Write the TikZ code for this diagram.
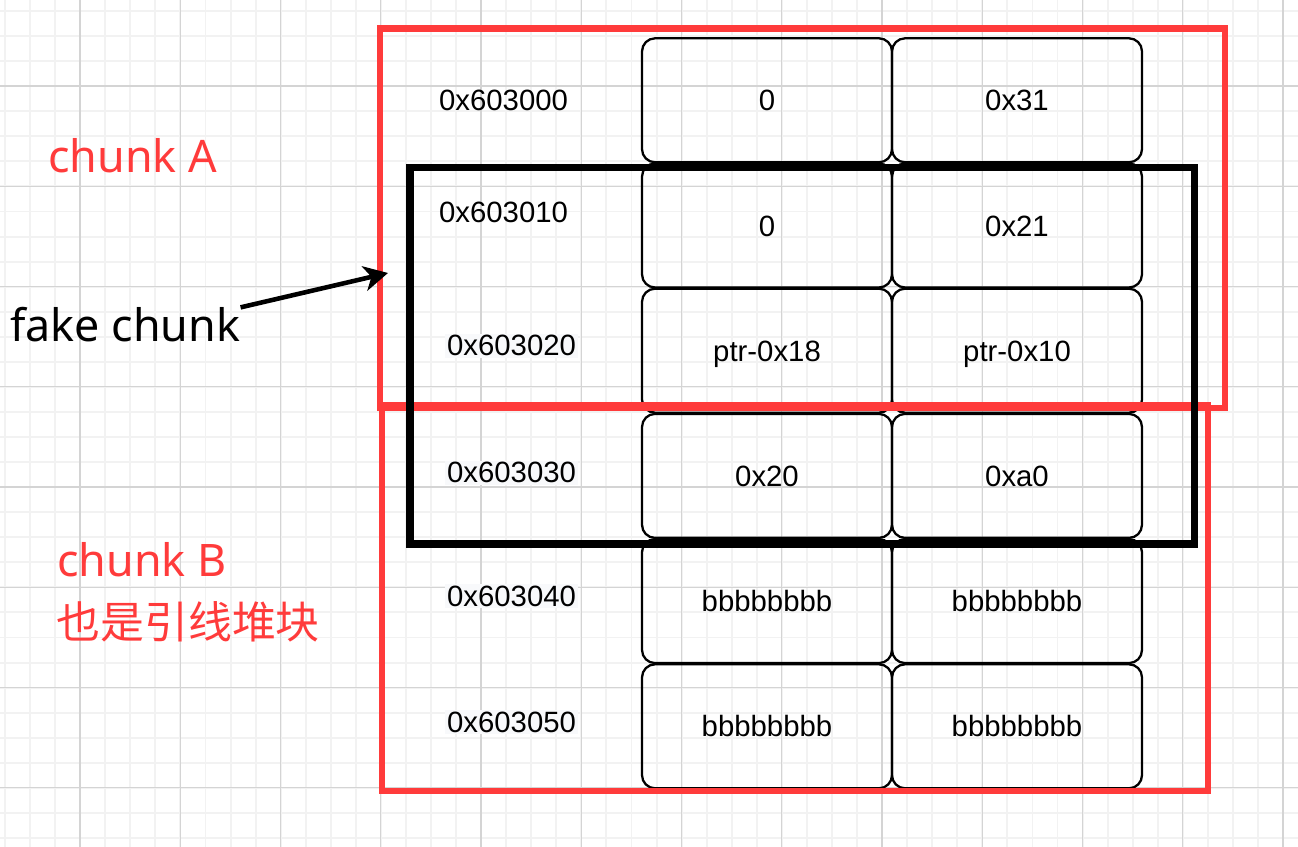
\documentclass[tikz,border=0pt]{standalone}
\usepackage{fontspec}
\setmainfont{Liberation Sans}
\newfontfamily\labelfont{Noto Sans}
\newfontfamily\cjk{Noto Sans CJK SC}
\usetikzlibrary{arrows.meta}
\definecolor{chunkred}{HTML}{FF3B3B}
\definecolor{gridminor}{HTML}{F2F2F2}
\definecolor{gridmajor}{HTML}{D4D4D4}
\definecolor{addrbg}{HTML}{F8F9FB}

\begin{document}
\begin{tikzpicture}[x=0.02cm, y=-0.02cm,
	cell/.style={draw, rounded corners=0.26cm, line width=1.3pt, minimum width=5cm, minimum height=2.48cm, text height=12pt, text depth=0pt, font=\fontsize{16.7}{20}\selectfont},
	address/.style={anchor=base west, inner sep=1pt, font=\fontsize{16.7}{20}\selectfont},
	chunkframe/.style={draw=chunkred, line width=3.8pt},
	fakeframe/.style={draw=black, line width=4pt},
	chunklabel/.style={anchor=base west, inner sep=0pt, text=chunkred, font=\labelfont\fontsize{25.5}{30}\selectfont}]
			
			\useasboundingbox (0,0) rectangle (1298,847);
			\fill[white] (0,0) rectangle (1298,847);
			
			%Background grid
			\foreach \i in {0,...,51}
				\draw[gridminor, line width=1.1pt] ({5+25.06*\i},0) -- ({5+25.06*\i},847);
			\foreach \i in {0,...,33}
				\draw[gridminor, line width=1.1pt] (0,{11+25.06*\i}) -- (1298,{11+25.06*\i});
			\foreach \i in {0,...,12}
				\draw[gridmajor, line width=0.6pt] ({80+100.25*\i},0) -- ({80+100.25*\i},847);
			\foreach \i in {0,...,7}
				\draw[gridmajor, line width=0.6pt] (0,{86+100.25*\i}) -- (1298,{86+100.25*\i});
			
			%Memory cells
			\node (leftCell0) at (767,100.3) [cell]{0};
			\node (rightCell0) at (1017,100.3) [cell]{0x31};
			\node (leftCell1) at (767,225.5) [cell]{0};
			\node (rightCell1) at (1017,225.5) [cell]{0x21};
			\node (leftCell2) at (767,350.7) [cell]{ptr-0x18};
			\node (rightCell2) at (1017,350.7) [cell]{ptr-0x10};
			\node (leftCell3) at (767,475.9) [cell]{0x20};
			\node (rightCell3) at (1017,475.9) [cell]{0xa0};
			\node (leftCell4) at (767,601.1) [cell]{bbbbbbbb};
			\node (rightCell4) at (1017,601.1) [cell]{bbbbbbbb};
			\node (leftCell5) at (767,726.3) [cell]{bbbbbbbb};
			\node (rightCell5) at (1017,726.3) [cell]{bbbbbbbb};
			
			%Addresses
			\node (addr0) at (437,111) [address]{0x603000};
			\node (addr1) at (437,223) [address]{0x603010};
			\node (addr2) at (445,356) [address, fill=addrbg]{0x603020};
			\node (addr3) at (445,483) [address, fill=addrbg]{0x603030};
			\node (addr4) at (445,606) [address, fill=addrbg]{0x603040};
			\node (addr5) at (445,732) [address, fill=addrbg]{0x603050};
			
			%Chunk A and chunk B frames
			\draw[chunkframe] (380,28.5) rectangle (1225,408);
			\draw[chunkframe] (382,405) rectangle (1208,791);
			
			%Fake chunk frame
			\draw[fakeframe] (410,167.5) rectangle (1194,544);
			
			%Labels
			\node (chunkA) at (48,173) [chunklabel]{chunk A};
			\node (chunkB) at (57,577) [chunklabel]{chunk B};
			\node (chunkBNote) at (56,638) [chunklabel, font=\cjk\fontsize{25}{30}\selectfont]{也是引线堆块};
			\node (fakeChunk) at (10,342) [chunklabel, text=black]{fake chunk};
			
			%Pointer to the fake chunk
			\coordinate (chunkAEdge) at (388,273);
			\draw[-{Stealth[length=0.48cm, width=0.5cm, inset=0.14cm]}, line width=2.6pt] (fakeChunk.north east) -- (chunkAEdge);
			
			\end{tikzpicture}
\end{document}
